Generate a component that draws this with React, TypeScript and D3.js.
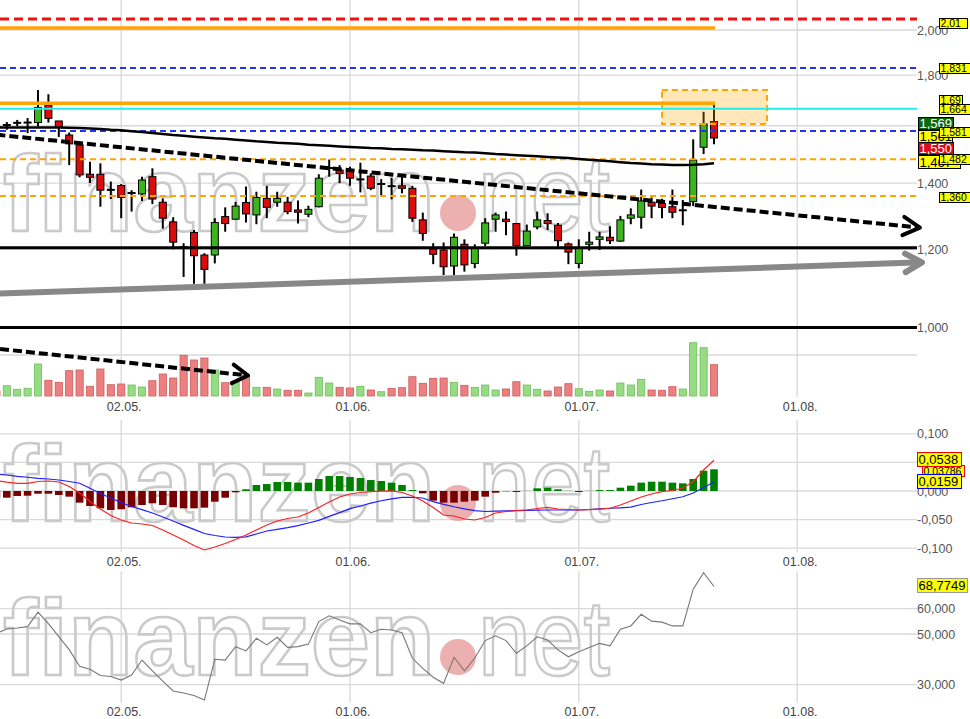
import React from "react";
import * as d3 from "d3";

const FONT = "'Liberation Sans', Arial, Helvetica, sans-serif";

const dateLabels = ["02.05.", "01.06.", "01.07.", "01.08."];
const dateIndex = [12, 34, 56, 77];

const open = [1.600,1.599,1.607,1.611,1.612,1.679,1.618,1.566,1.530,1.429,
1.429,1.380,1.392,1.365,1.365,1.421,1.339,1.279,1.209,1.248,
1.184,1.184,1.295,1.287,1.338,1.300,1.351,1.339,1.339,1.315,
1.302,1.325,1.447,1.443,1.441,1.411,1.423,1.394,1.392,1.391,
1.383,1.285,1.201,1.198,1.154,1.214,1.161,1.217,1.287,1.287,
1.274,1.210,1.264,1.283,1.269,1.215,1.161,1.214,1.228,1.234,
1.223,1.290,1.293,1.339,1.335,1.325,1.312,1.341,1.522,1.616];

const high = [1.611,1.614,1.622,1.629,1.739,1.722,1.618,1.575,1.530,1.471,
1.466,1.405,1.397,1.377,1.421,1.449,1.351,1.293,1.217,1.255,
1.189,1.290,1.323,1.340,1.389,1.372,1.391,1.372,1.356,1.344,
1.328,1.429,1.479,1.460,1.454,1.468,1.432,1.413,1.417,1.421,
1.391,1.307,1.217,1.219,1.245,1.228,1.214,1.290,1.307,1.310,
1.276,1.271,1.310,1.305,1.276,1.219,1.228,1.250,1.250,1.266,
1.297,1.320,1.379,1.354,1.350,1.379,1.346,1.550,1.653,1.682];

const low = [1.585,1.585,1.599,1.573,1.597,1.612,1.559,1.460,1.419,1.400,
1.325,1.349,1.290,1.310,1.343,1.333,1.259,1.200,1.125,1.107,
1.107,1.161,1.250,1.285,1.277,1.272,1.290,1.325,1.302,1.274,
1.293,1.323,1.421,1.400,1.391,1.370,1.377,1.361,1.348,1.367,
1.279,1.224,1.159,1.130,1.130,1.139,1.148,1.209,1.250,1.240,
1.182,1.209,1.257,1.255,1.207,1.159,1.148,1.196,1.198,1.215,
1.221,1.272,1.259,1.290,1.290,1.290,1.269,1.327,1.498,1.533];

const close = [1.596,1.603,1.611,1.612,1.670,1.628,1.594,1.534,1.427,1.419,
1.377,1.378,1.354,1.368,1.410,1.349,1.290,1.220,1.206,1.182,
1.145,1.277,1.274,1.327,1.303,1.354,1.323,1.351,1.310,1.308,
1.317,1.416,1.450,1.432,1.416,1.412,1.383,1.397,1.390,1.383,
1.290,1.245,1.186,1.152,1.234,1.157,1.203,1.276,1.300,1.280,
1.210,1.252,1.285,1.274,1.224,1.192,1.203,1.220,1.235,1.224,
1.285,1.300,1.343,1.327,1.323,1.308,1.314,1.477,1.607,1.555];

const volume = [5,10.3,6.7,7.7,32,15.7,13.7,25.3,26,9.7,
27,11.3,12,11,9,15.3,22,18,40.7,36,
38,26,13.3,14.3,21,8.7,8.7,7,5.7,5.7,
3,18.7,13,8.7,8,9.7,6,4.3,7.7,8.3,
19.3,12.7,17.7,18,13.7,10.7,8.7,11,6,7,
14.3,11,6.7,5,9,12.3,7.3,4.7,6,5,
13,11,16.7,6,5.7,9.3,7,53.3,48.3,31.3];

const movingAvg = [1.594,1.594,1.594,1.594,1.594,1.594,1.594,1.593,1.592,1.590,
1.588,1.585,1.583,1.580,1.577,1.573,1.570,1.566,1.563,1.560,
1.557,1.554,1.552,1.549,1.546,1.543,1.541,1.538,1.536,1.534,
1.531,1.529,1.527,1.525,1.523,1.521,1.519,1.518,1.516,1.515,
1.513,1.511,1.510,1.508,1.506,1.504,1.503,1.501,1.498,1.496,
1.494,1.492,1.490,1.488,1.486,1.484,1.481,1.478,1.476,1.473,
1.470,1.467,1.465,1.463,1.462,1.460,1.460,1.461,1.463,1.466];

const macdLine = [0.0184,0.0154,0.0135,0.0135,0.0166,0.0175,0.0157,0.0079,-0.0035,-0.0184,
-0.0315,-0.0428,-0.0507,-0.0559,-0.0577,-0.0603,-0.0682,-0.0769,-0.0857,-0.0953,
-0.1031,-0.0979,-0.0918,-0.0848,-0.0769,-0.0682,-0.0594,-0.0524,-0.0481,-0.0455,
-0.0385,-0.0288,-0.0192,-0.0105,-0.0052,-0.0026,-0.0012,-0.0003,0.0003,-0.0026,
-0.0087,-0.0175,-0.0288,-0.042,-0.0437,-0.049,-0.0507,-0.0463,-0.0385,-0.0358,
-0.0341,-0.0332,-0.0306,-0.0288,-0.0315,-0.0323,-0.0332,-0.0325,-0.0318,-0.0302,
-0.0245,-0.0175,-0.0105,-0.0052,-0.0012,0.0009,0.0052,0.0163,0.0367,0.0538];

const signalLine = [0.0297,0.028,0.0257,0.024,0.0222,0.021,0.0192,0.0166,0.0135,0.0047,
-0.0044,-0.0122,-0.0203,-0.0271,-0.0325,-0.0385,-0.0455,-0.0524,-0.0601,-0.067,
-0.0743,-0.0778,-0.0804,-0.081,-0.0801,-0.0752,-0.0699,-0.067,-0.064,-0.0605,
-0.0559,-0.0514,-0.0444,-0.0378,-0.0308,-0.0262,-0.0213,-0.0171,-0.0138,-0.011,
-0.011,-0.0122,-0.0187,-0.0233,-0.0276,-0.0311,-0.0344,-0.0358,-0.0353,-0.0348,
-0.0343,-0.0339,-0.0336,-0.0332,-0.0332,-0.0332,-0.0332,-0.0323,-0.0313,-0.0302,
-0.0294,-0.0283,-0.0236,-0.0201,-0.0171,-0.0136,-0.0101,-0.0035,0.0061,0.0159];

const histogram = [-0.012,-0.0117,-0.0087,-0.0082,-0.0047,-0.0047,-0.007,-0.0099,-0.0204,-0.0262,
-0.0303,-0.0332,-0.032,-0.0285,-0.0245,-0.0215,-0.0245,-0.0285,-0.0303,-0.0303,
-0.0291,-0.0187,-0.0117,-0.0023,0.003,0.0105,0.0122,0.0157,0.0157,0.0146,
0.0146,0.021,0.0262,0.0262,0.0245,0.0227,0.0192,0.0175,0.0146,0.0105,
0.0017,-0.0041,-0.0169,-0.0204,-0.0204,-0.0187,-0.0169,-0.0099,-0.003,-0.0005,
-0.0017,0.0003,0.0047,0.0058,0.003,0.0003,-0.0017,0.0003,0.0017,0.0017,
0.0058,0.0093,0.0146,0.0163,0.0163,0.0146,0.0134,0.021,0.0355,0.0379];

const rsi = [50.2,52.0,52.4,52.9,58.6,54.1,49.0,43.8,37.2,36.1,
33.6,33.2,31.8,33.8,39.7,35.4,31.4,27.5,26.7,25.7,
23.9,40.0,39.7,45.0,43.3,48.3,45.7,48.7,44.7,45.0,
46.0,54.9,57.2,55.5,54.0,54.0,50.5,51.9,51.6,50.5,
40.4,36.4,32.9,30.5,40.8,35.4,40.5,47.4,49.3,47.4,
42.4,45.3,48.9,47.6,43.7,41.0,43.0,44.7,46.3,45.3,
51.9,53.2,57.8,55.1,54.7,53.2,53.2,67.7,74.2,68.77];

const priceTicks = [1.0, 1.2, 1.4, 1.6, 1.8, 2.0];
const volumeTicks = [41];
const macdTicks = [-0.1, -0.05, 0, 0.05, 0.1];
const rsiTicks = [30, 50, 60];

const redDashLevels = [2.052];
const orangeLevels = [2.009, 1.686];
const blueDashLevels = [1.831, 1.581];
const cyanLevels = [1.665];
const orangeDashLevels = [1.48, 1.3585];
const blackLevels = [1.204, 1.0];

const trendDown = [[0, 1.567], [88.8, 1.262]];
const trendUp = [[0, 1.082], [89, 1.164]];
const volumeTrend = [[0.35, 47], [24.2, 20.5]];
const zoneIdx = [64, 74.1];
const zonePrice = [1.607, 1.739];

const priceTags = [
  { x: 939, y: 18, w: 28, h: 10, text: "2,01", fs: 10.5 },
  { x: 939, y: 63, w: 31, h: 10, text: "1,831", fs: 10.5 },
  { x: 939, y: 95, w: 23, h: 9, text: "1,69", fs: 10.5 },
  { x: 939, y: 104, w: 31, h: 10, text: "1,664", fs: 10.5 },
  { x: 918, y: 117, w: 35, h: 12, text: "1,569", fs: 13, fill: "#0a6a0a", color: "#fff" },
  { x: 918, y: 130, w: 34, h: 12, text: "1,561", fs: 13 },
  { x: 939, y: 127, w: 31, h: 10, text: "1,581", fs: 10.5 },
  { x: 918, y: 142, w: 35, h: 12, text: "1,550", fs: 13, fill: "#dd0a18", color: "#fff" },
  { x: 918, y: 155, w: 42, h: 13, text: "1,467", fs: 13 },
  { x: 939, y: 154, w: 31, h: 10, text: "1,482", fs: 10.5 },
  { x: 939, y: 192, w: 31, h: 10, text: "1,360", fs: 10.5 },
];
const macdTags = [
  { x: 922, y: 465, w: 42, h: 11, text: "0,03786", fs: 10.5, stroke: "#e00" },
  { x: 917, y: 452, w: 44, h: 14, text: "0,0538", fs: 13, stroke: "#e00" },
  { x: 917, y: 474, w: 44, h: 14, text: "0,0159", fs: 13, stroke: "#00f" },
];
const rsiTags = [{ x: 917, y: 578, w: 50, h: 14, text: "68,7749", fs: 13, stroke: "#999" }];

const fmt = (v: number, d: number) => (v < 0 ? "-" : "") + Math.abs(v).toFixed(d).replace(".", ",");

function Tag(t: any) {
  return (
    <g>
      <rect x={t.x + 0.5} y={t.y + 0.5} width={t.w} height={t.h} fill={t.fill || "#ffff00"} stroke={t.stroke || "#000"} strokeWidth={1} />
      <text x={t.x + 1.5} y={t.y + 0.5 + t.h / 2} dy="0.36em" fontSize={t.fs} fill={t.color || "#000"} fontFamily={FONT}>{t.text}</text>
    </g>
  );
}

function Watermark({ base }: { base: number }) {
  return (
    <g>
      <text x={3} y={base} fontSize={107} fontWeight="bold" fontFamily={FONT} textLength={432} lengthAdjust="spacingAndGlyphs"
        fill="none" stroke="#cacaca" strokeWidth={2.6}>finanzen</text>
      <circle cx={458} cy={base - 18} r={18} fill="#e48f8f" opacity={0.7} />
      <text x={478} y={base} fontSize={107} fontFamily={FONT} textLength={132} lengthAdjust="spacingAndGlyphs"
        fill="none" stroke="#cacaca" strokeWidth={2.6}>net</text>
    </g>
  );
}

export default function App() {
  const x = d3.scaleLinear().domain([0, 69]).range([-3.6, 714]);
  const yP = d3.scaleLog().domain([1, 2]).range([327.5, 327.5 - 429.2 * Math.LN2]);
  const yV = d3.scaleLinear().domain([0, 41]).range([396, 355]);
  const yM = d3.scaleLinear().domain([-0.1, 0.1]).range([548.2, 433.8]);
  const yR = d3.scaleLinear().domain([30, 60]).range([684.6, 608.7]);
  const idx = d3.range(open.length);
  const xEnd = 917;

  const lineOf = (arr: number[], ys: (v: number) => number) =>
    d3.line<number>().x((i) => x(i)).y((i) => ys(arr[i]))(idx) || "";

  const arrowHead = (p0: number[], p1: number[], L = 19, th = (29 * Math.PI) / 180) => {
    const a = Math.atan2(p1[1] - p0[1], p1[0] - p0[0]);
    const b1 = [p1[0] - L * Math.cos(a - th), p1[1] - L * Math.sin(a - th)];
    const b2 = [p1[0] - L * Math.cos(a + th), p1[1] - L * Math.sin(a + th)];
    return `M${b1[0]},${b1[1]}L${p1[0]},${p1[1]}L${b2[0]},${b2[1]}`;
  };

  const tdA = [x(trendDown[0][0]), yP(trendDown[0][1])];
  const tdB = [x(trendDown[1][0]), yP(trendDown[1][1])];
  const tuA = [x(trendUp[0][0]), yP(trendUp[0][1])];
  const tuB = [x(trendUp[1][0]), yP(trendUp[1][1])];
  const vtA = [x(volumeTrend[0][0]), yV(volumeTrend[0][1])];
  const vtB = [x(volumeTrend[1][0]), yV(volumeTrend[1][1])];

  const hLine = (v: number, ys: (n: number) => number, x2: number, props: any, key: string) => (
    <line key={key} x1={0} x2={x2} y1={ys(v)} y2={ys(v)} {...props} />
  );

  const grid = "#d9d9d9";
  const axisColor = "#555";

  return (
    <svg width={970} height={719} style={{ position: "absolute", left: 0, top: 0, background: "#fff" }} fontFamily={FONT}>
      <defs>
        <clipPath id="cpPrice"><rect x={0} y={0} width={970} height={337} /></clipPath>
        <clipPath id="cpVol"><rect x={0} y={337} width={930} height={60} /></clipPath>
      </defs>
      <rect x={0} y={0} width={970} height={719} fill="#fff" />

      {/* vertical grid */}
      {dateIndex.map((d, k) => (
        <g key={"vg" + k} stroke={grid} strokeWidth={1.3}>
          <line x1={x(d)} x2={x(d)} y1={0} y2={397} />
          <line x1={x(d)} x2={x(d)} y1={420} y2={552} />
          <line x1={x(d)} x2={x(d)} y1={571} y2={703} />
        </g>
      ))}
      {/* horizontal grid */}
      {priceTicks.map((t, k) => hLine(t, yP, xEnd, { stroke: grid, strokeWidth: 1.3 }, "pg" + k))}
      {volumeTicks.map((t, k) => hLine(t, yV, xEnd, { stroke: grid, strokeWidth: 1.3 }, "vg" + k))}
      {macdTicks.map((t, k) => hLine(t, yM, xEnd, { stroke: grid, strokeWidth: 1.3 }, "mg" + k))}
      {rsiTicks.map((t, k) => hLine(t, yR, xEnd, { stroke: grid, strokeWidth: 1.3 }, "rg" + k))}

      {/* watermarks */}
      <Watermark base={231} />
      <Watermark base={521} />
      <Watermark base={675} />

      {/* price panel */}
      <g clipPath="url(#cpPrice)">
        {idx.map((i) => {
          const up = close[i] >= open[i];
          const xc = x(i);
          const yTop = yP(Math.max(open[i], close[i]));
          const yBot = yP(Math.min(open[i], close[i]));
          const h = yBot - yTop;
          return (
            <g key={"c" + i}>
              <line x1={xc} x2={xc} y1={yP(high[i])} y2={yP(low[i])} stroke="#000" strokeWidth={2} />
              {h < 1.6 ? (
                <line x1={xc - 4} x2={xc + 4} y1={yP(close[i])} y2={yP(close[i])} stroke="#000" strokeWidth={2} />
              ) : (
                <rect x={xc - 3.5} y={yTop} width={7} height={h} fill={up ? "#3cb41e" : "#dc0c0c"} stroke="#000" strokeWidth={1} />
              )}
            </g>
          );
        })}
        <rect x={x(zoneIdx[0])} y={yP(zonePrice[1])} width={x(zoneIdx[1]) - x(zoneIdx[0])} height={yP(zonePrice[0]) - yP(zonePrice[1])}
          fill="#ffa500" fillOpacity={0.27} stroke="#ffa500" strokeWidth={2} strokeDasharray="6,4" />
        {redDashLevels.map((v, k) => hLine(v, yP, xEnd, { stroke: "#ee1111", strokeWidth: 3, strokeDasharray: "9,5" }, "rd" + k))}
        {orangeLevels.map((v, k) => hLine(v, yP, x(69) + 1, { stroke: "#ffa500", strokeWidth: 3.5 }, "os" + k))}
        {blueDashLevels.map((v, k) => hLine(v, yP, xEnd, { stroke: "#2233ee", strokeWidth: 2, strokeDasharray: "6,4" }, "bd" + k))}
        {cyanLevels.map((v, k) => hLine(v, yP, xEnd, { stroke: "#22eeee", strokeWidth: 2 }, "cy" + k))}
        {orangeDashLevels.map((v, k) => hLine(v, yP, xEnd, { stroke: "#ffa500", strokeWidth: 2, strokeDasharray: "6,4" }, "od" + k))}
        {blackLevels.map((v, k) => hLine(v, yP, xEnd, { stroke: "#000", strokeWidth: 3 }, "bl" + k))}
        <path d={lineOf(movingAvg, yP)} fill="none" stroke="#000" strokeWidth={2.5} />
        <line x1={tuA[0]} y1={tuA[1]} x2={tuB[0]} y2={tuB[1]} stroke="#888" strokeWidth={6} />
        <path d={arrowHead(tuA, tuB)} fill="none" stroke="#888" strokeWidth={6} strokeLinecap="round" strokeLinejoin="round" />
        <line x1={tdA[0]} y1={tdA[1]} x2={tdB[0]} y2={tdB[1]} stroke="#000" strokeWidth={4} strokeDasharray="9,4" />
        <path d={arrowHead(tdA, tdB)} fill="none" stroke="#000" strokeWidth={4} strokeLinecap="round" strokeLinejoin="round" />
      </g>

      {/* volume panel */}
      <g clipPath="url(#cpVol)">
        {idx.map((i) => {
          const up = close[i] >= open[i];
          return (
            <rect key={"v" + i} x={x(i) - 3.6} y={yV(volume[i])} width={7.2} height={yV(0) - yV(volume[i])}
              fill={up ? "#97db84" : "#ec8080"} stroke={up ? "#6fbf5c" : "#cc5c5c"} strokeWidth={0.8} />
          );
        })}
        <line x1={vtA[0]} y1={vtA[1]} x2={vtB[0]} y2={vtB[1]} stroke="#000" strokeWidth={4} strokeDasharray="9,4" />
        <path d={arrowHead(vtA, vtB, 18, (31 * Math.PI) / 180)} fill="none" stroke="#000" strokeWidth={4} strokeLinecap="round" strokeLinejoin="round" />
      </g>

      {/* MACD panel */}
      {idx.map((i) => {
        const v = histogram[i];
        const y0 = yM(0);
        const y1 = yM(v);
        return (
          <rect key={"h" + i} x={x(i) - 3.8} y={Math.min(y0, y1)} width={7.6} height={Math.abs(y1 - y0)}
            fill={v >= 0 ? "#008000" : "#780000"} />
        );
      })}
      <path d={lineOf(signalLine, yM)} fill="none" stroke="#1f1fff" strokeWidth={1.2} />
      <path d={lineOf(macdLine, yM)} fill="none" stroke="#ff1f1f" strokeWidth={1.2} />

      {/* RSI panel */}
      <path d={lineOf(rsi, yR)} fill="none" stroke="#777" strokeWidth={1.1} />

      {/* axis labels */}
      <g fontSize={12.5} fill={axisColor}>
        {priceTicks.map((t, k) => (
          <text key={"pl" + k} x={917} y={yP(t)} dy="0.36em">{fmt(t, 3)}</text>
        ))}
        {macdTicks.map((t, k) => (
          <text key={"ml" + k} x={917} y={yM(t)} dy="0.36em">{fmt(t, 3)}</text>
        ))}
        {rsiTicks.map((t, k) => (
          <text key={"rl" + k} x={917} y={yR(t)} dy="0.36em">{fmt(t, 3)}</text>
        ))}
      </g>
      <g fontSize={12.5} fill="#444" textAnchor="middle">
        {dateIndex.map((d, k) => (
          <g key={"dl" + k}>
            <text x={x(d) + 3} y={406} dy="0.36em">{dateLabels[k]}</text>
            <text x={x(d) + 3} y={561.5} dy="0.36em">{dateLabels[k]}</text>
            <text x={x(d) + 3} y={711.5} dy="0.36em">{dateLabels[k]}</text>
          </g>
        ))}
      </g>

      {/* value tags */}
      {priceTags.map((t, k) => <Tag key={"pt" + k} {...t} />)}
      {macdTags.map((t, k) => <Tag key={"mt" + k} {...t} />)}
      {rsiTags.map((t, k) => <Tag key={"rt" + k} {...t} />)}
    </svg>
  );
}
